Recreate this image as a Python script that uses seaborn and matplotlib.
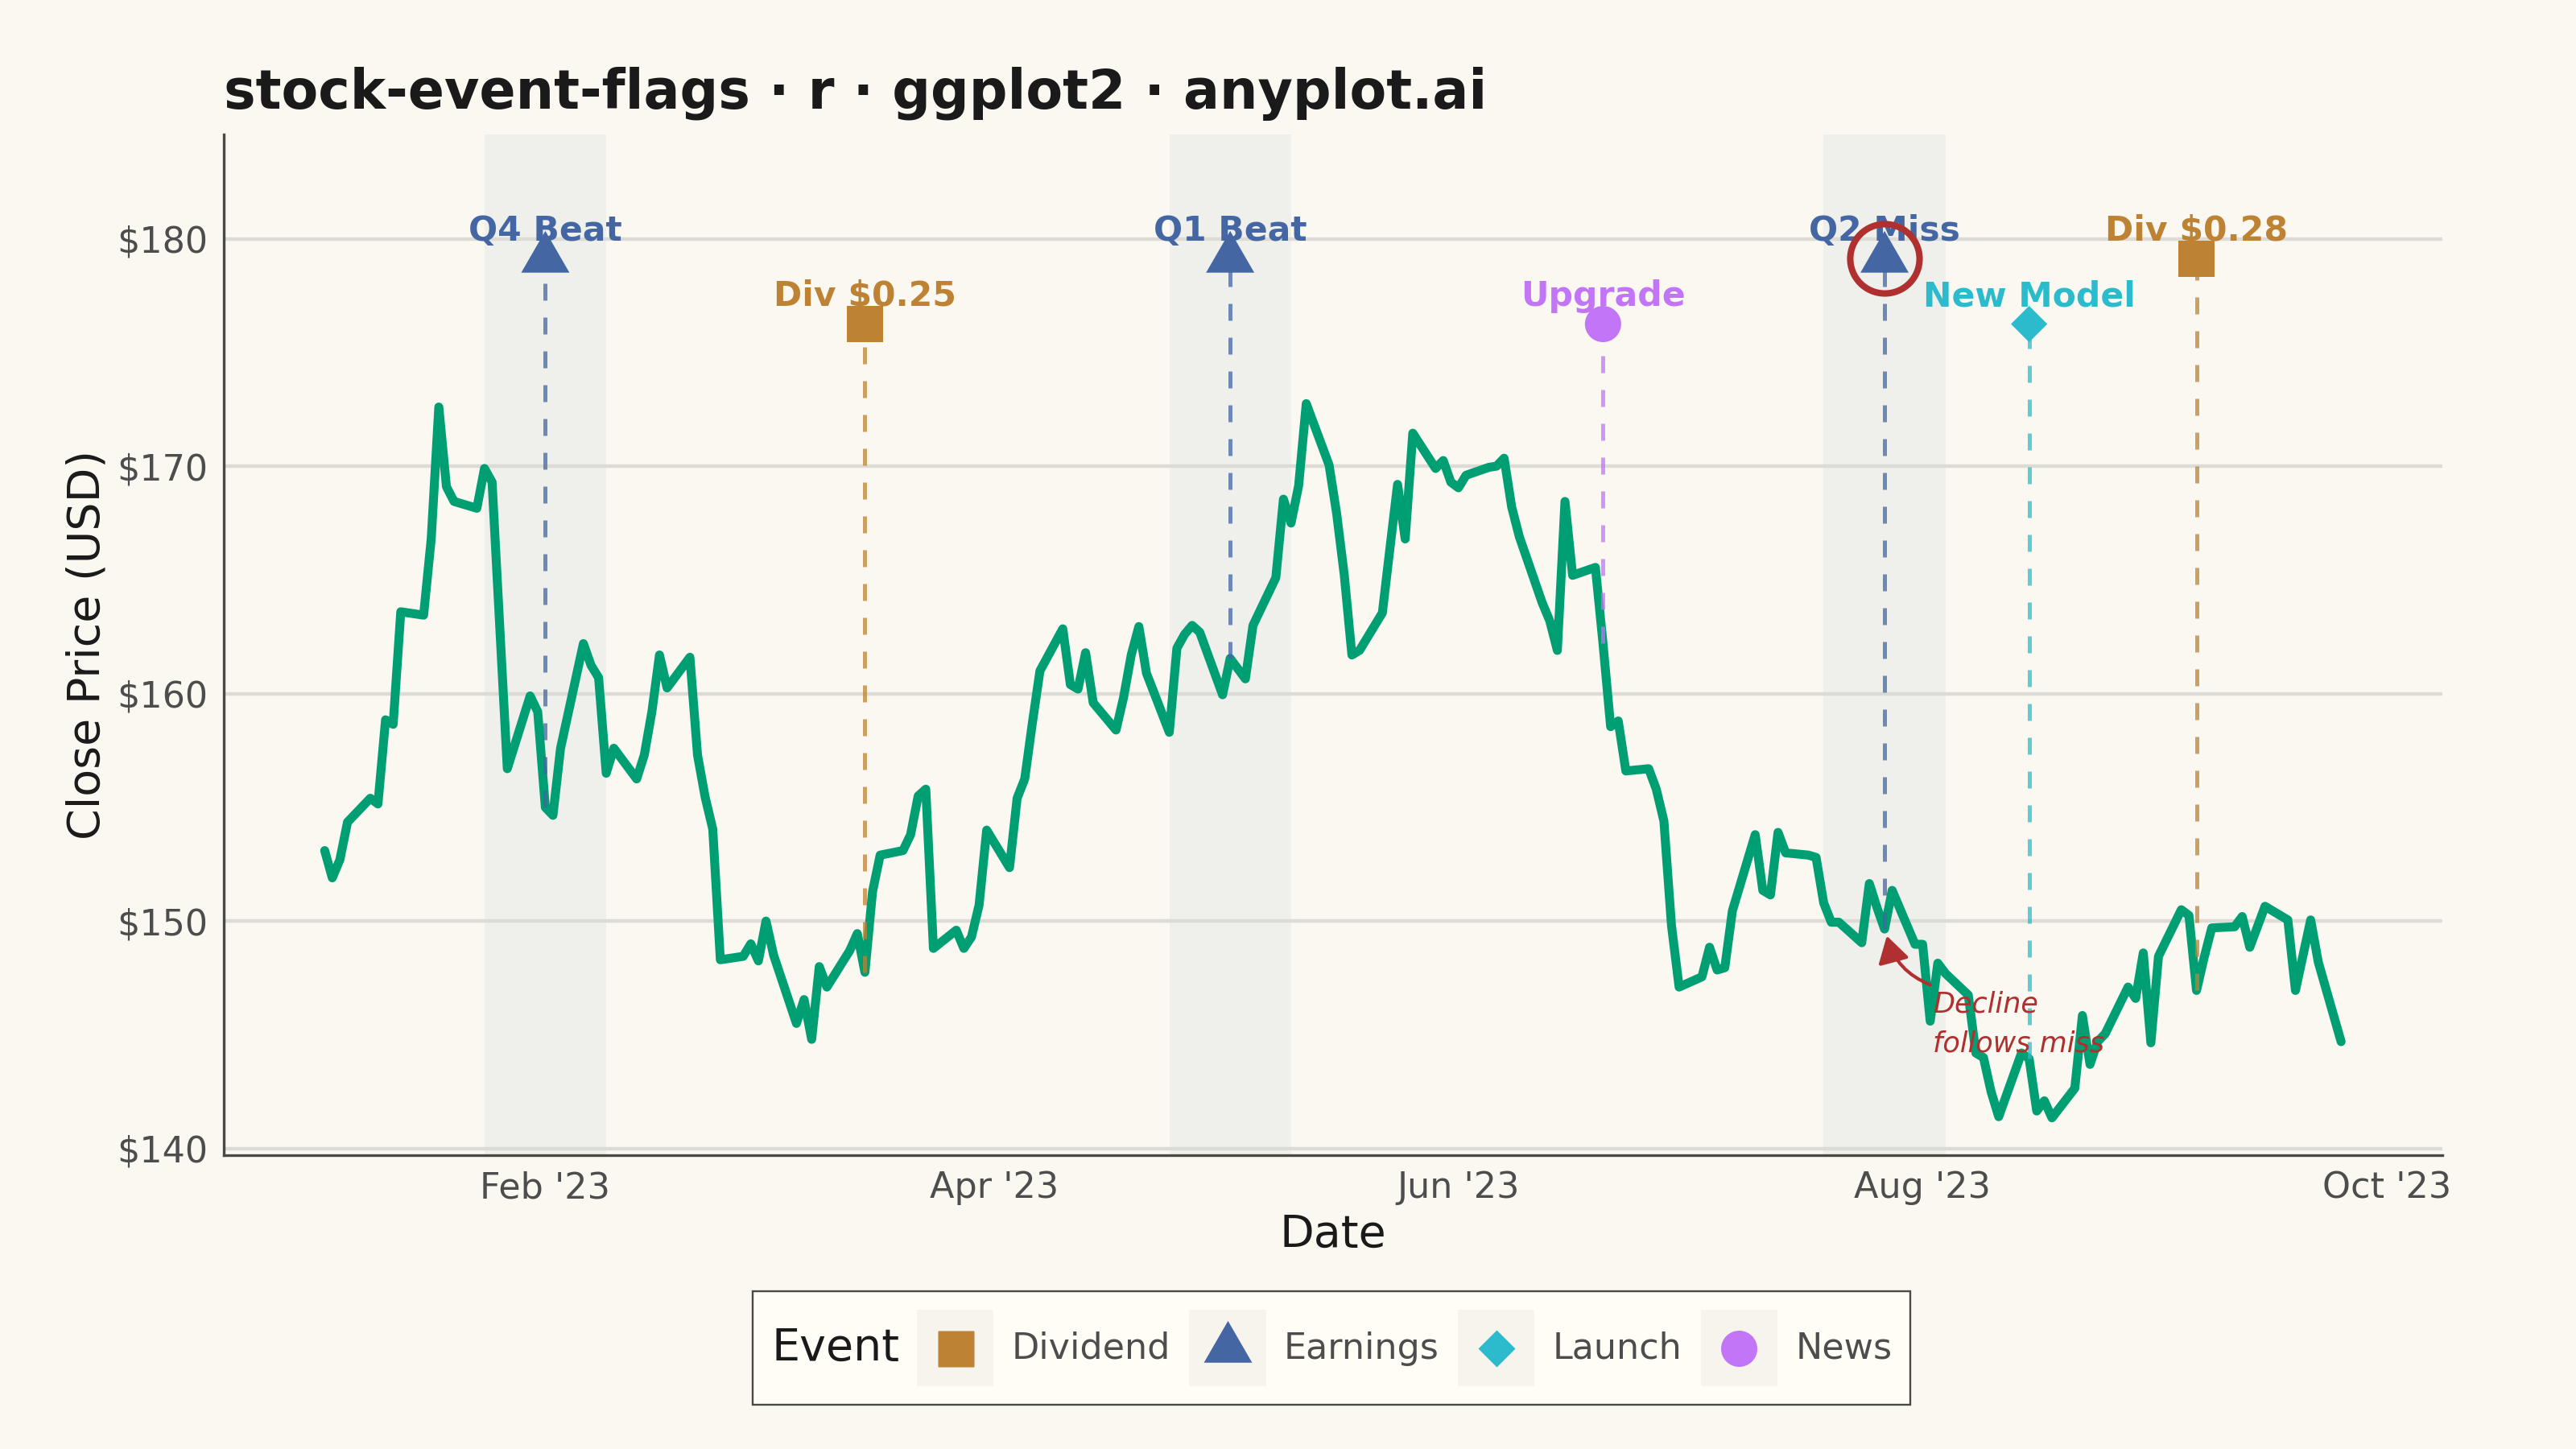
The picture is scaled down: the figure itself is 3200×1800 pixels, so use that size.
import matplotlib
matplotlib.use("Agg")
import matplotlib.pyplot as plt
import matplotlib.dates as mdates
from matplotlib.lines import Line2D
from matplotlib.patches import Rectangle
from matplotlib.markers import MarkerStyle
from matplotlib.offsetbox import HPacker
from matplotlib.ticker import FuncFormatter
import seaborn as sns
import pandas as pd
import numpy as np

# 일별 종가 (영업일, 2023-01-03 부터) - 그림에서 읽은 값
close = [
    153.1, 151.9, 152.7, 154.35,
    155.4, 155.15, 158.85, 158.65, 163.6,
    163.45, 166.8, 172.6, 169.1, 168.45,
    168.15, 169.9, 169.3, 163.0, 156.7,
    159.9, 159.2, 155.0, 154.65, 157.6,
    162.2, 161.25, 160.7, 156.5, 157.6,
    156.25, 157.3, 159.2, 161.7, 160.25,
    161.6, 157.3, 155.45, 154.05, 148.3,
    148.45, 149.0, 148.25, 150.0, 148.5,
    145.5, 146.55, 144.8, 148.0, 147.1,
    148.7, 149.45, 147.75, 151.3, 152.9,
    153.1, 153.8, 155.5, 155.8, 148.8,
    149.6, 148.8, 149.3, 150.7, 154.0,
    152.35, 155.4, 156.25, 158.7, 161.0,
    162.85, 160.4, 160.2, 161.8, 159.6,
    158.4, 159.85, 161.7, 162.95, 160.9,
    158.3, 162.0, 162.6, 163.0, 162.7,
    159.95, 161.55, 161.1, 160.65, 163.0,
    165.1, 168.55, 167.5, 169.15, 172.75,
    170.05, 167.9, 165.2, 161.7, 161.9,
    163.55, 166.4, 169.2, 166.8, 171.45,
    169.9, 170.25, 169.3, 169.05, 169.6,
    169.95, 170.0, 170.35, 168.2, 166.9,
    164.0, 163.2, 161.9, 168.45, 165.2,
    165.55, 162.2, 158.55, 158.8, 156.6,
    156.7, 155.8, 154.4, 149.8, 147.1,
    147.55, 148.85, 147.85, 147.95, 150.45,
    153.8, 151.35, 151.15, 153.9, 153.0,
    152.9, 152.8, 150.8, 149.95, 149.95,
    149.05, 151.65, 150.6, 149.65, 151.35,
    148.98, 148.98, 145.6, 148.15, 147.7,
    146.75, 144.2, 144.0, 142.5, 141.4,
    144.2, 143.95, 141.65, 142.1, 141.35,
    142.65, 145.85, 143.7, 144.7, 145.05,
    147.1, 146.6, 148.6, 144.65, 148.45,
    150.5, 150.25, 146.95, 148.4, 149.7,
    149.75, 150.2, 148.85, 149.75, 150.65,
    150.05, 146.95, 148.5, 150.05, 148.2,
    144.7,
]

# 이벤트
event_dates = ['2023-02-01', '2023-03-15', '2023-05-02', '2023-06-20',
               '2023-07-27', '2023-08-15', '2023-09-06']
event_types = ['Earnings', 'Dividend', 'Earnings', 'News',
               'Earnings', 'Launch', 'Dividend']
event_labels = ['Q4 Beat', 'Div $0.25', 'Q1 Beat', 'Upgrade',
                'Q2 Miss', 'New Model', 'Div $0.28']

legend_order = ['Dividend', 'Earnings', 'Launch', 'News']
palette = {'Dividend': '#BD8234', 'Earnings': '#4467A4',
           'Launch': '#2CBBCC', 'News': '#C275F7'}

BG = '#FAF8F1'
INK = '#4A4A44'
RED = '#B0302F'
KEY_BG = '#F6F4ED'
FLAG_HIGH, FLAG_LOW = 179.12, 176.25

prices = pd.DataFrame({'date': pd.bdate_range('2023-01-03', periods=len(close)),
                       'close': close})
ev = pd.DataFrame({'date': pd.to_datetime(event_dates), 'type': event_types,
                   'label': event_labels})
ev['flag_y'] = np.where(np.arange(len(ev)) % 2 == 0, FLAG_HIGH, FLAG_LOW)
ev['price'] = prices.set_index('date').loc[ev['date'], 'close'].values

tri = MarkerStyle(np.array([[-1, -0.577], [1, -0.577], [0, 1.155]]))
marker_map = {'Dividend': 's', 'Earnings': tri, 'Launch': 'D', 'News': 'o'}
ms_map = {'Dividend': 16.2, 'Earnings': 24.9, 'Launch': 11.5, 'News': 16.2}


class KeyHandler:
    # ggplot 스타일 범례 키: 배경 사각형 + 가운데 마커
    def legend_artist(self, legend, orig_handle, fontsize, handlebox):
        x0, y0 = -handlebox.xdescent, -handlebox.ydescent
        w, h = handlebox.width, handlebox.height
        tr = handlebox.get_transform()
        bg = Rectangle((x0, y0), w, h, facecolor=KEY_BG, edgecolor='none', transform=tr)
        mk = Line2D([x0 + w / 2], [y0 + h / 2], marker=orig_handle.get_marker(),
                    ms=orig_handle.get_markersize(), mfc=orig_handle.get_markerfacecolor(),
                    mec='none', ls='none', transform=tr)
        handlebox.add_artist(bg)
        handlebox.add_artist(mk)
        return mk


sns.set_theme(style='white')
plt.rcParams['font.family'] = ['DejaVu Sans']

fig = plt.figure(figsize=(16, 9), dpi=200, facecolor=BG)
ax = fig.add_axes([0.0869, 0.2028, 0.8612, 0.7045])
ax.set_facecolor(BG)

# 실적 발표 전후 음영
for d in ev.loc[ev['type'] == 'Earnings', 'date']:
    ax.axvspan(d - pd.Timedelta(days=8), d + pd.Timedelta(days=8),
               color='#EFEFEC', lw=0, zorder=0.2)

ax.grid(axis='y', color='#DDDBD5', lw=1.6, zorder=0.5)
ax.grid(axis='x', visible=False)
ax.set_axisbelow(True)

sns.lineplot(data=prices, x='date', y='close', color='#009E73', lw=4.0,
             solid_joinstyle='round', ax=ax, zorder=2)

# 깃발 막대
for _, r in ev.iterrows():
    ax.plot([r['date'], r['date']], [r['price'], r['flag_y']],
            color=palette[r['type']], lw=1.8, dashes=(4.2, 4.2),
            alpha=0.75, zorder=3)

sns.scatterplot(data=ev, x='date', y='flag_y', hue='type', style='type',
                size='type', palette=palette, markers=marker_map,
                sizes={k: v ** 2 for k, v in ms_map.items()},
                linewidth=0, legend=False, ax=ax, zorder=4)

for _, r in ev.iterrows():
    ax.text(r['date'], r['flag_y'] + 0.78, r['label'], color=palette[r['type']],
            fontsize=15.3, fontweight='bold', ha='center', va='baseline', zorder=5)

# Q2 Miss 강조
miss = ev[ev['label'] == 'Q2 Miss'].iloc[0]
ax.plot([miss['date']], [miss['flag_y']], marker='o', ms=31, mfc='none',
        mec=RED, mew=2.9, zorder=6)

day0 = pd.Timestamp('2023-01-01')
ax.annotate('', xy=(day0 + pd.Timedelta(days=207.3), 149.35),
            xytext=(day0 + pd.Timedelta(days=213.0), 147.2),
            arrowprops=dict(arrowstyle='-|>,head_length=0.5,head_width=0.3',
                            mutation_scale=20, color=RED, lw=1.5,
                            connectionstyle='arc3,rad=-0.25', shrinkA=0, shrinkB=0),
            zorder=6)
ax.text(day0 + pd.Timedelta(days=213.3), 146.95, 'Decline\nfollows miss',
        color=RED, fontsize=12.6, style='italic', ha='left', va='top',
        linespacing=1.55, zorder=6)

ax.set_xlim(day0 - pd.Timedelta(days=11.25), day0 + pd.Timedelta(days=280.3))
ax.set_ylim(139.71, 184.59)
ax.set_yticks([140, 150, 160, 170, 180])
ax.yaxis.set_major_formatter(FuncFormatter(lambda v, p: f'${v:.0f}'))
ax.set_xticks(pd.to_datetime(['2023-02-01', '2023-04-01', '2023-06-01',
                              '2023-08-01', '2023-10-01']))
ax.xaxis.set_major_formatter(mdates.DateFormatter("%b '%y"))
ax.tick_params(length=0, labelsize=16, labelcolor='#4D4D4D', pad=7)

for s in ['top', 'right']:
    ax.spines[s].set_visible(False)
for s in ['left', 'bottom']:
    ax.spines[s].set_color(INK)
    ax.spines[s].set_linewidth(1.2)

ax.set_xlabel('Date', fontsize=20, color='#1A1A1A', labelpad=3.5)
ax.set_ylabel('Close Price (USD)', fontsize=20, color='#1A1A1A', labelpad=3.5)
ax.set_title('stock-event-flags · r · ggplot2 · anyplot.ai', loc='left',
             fontsize=24, fontweight='bold', color='#1A1A1A', pad=11.6)

# 범례 (제목을 왼쪽에)
handles = [Line2D([], [], marker=marker_map[t], ls='none', ms=ms_map[t],
                  mfc=palette[t], mec='none') for t in legend_order]
leg = fig.legend(handles, legend_order, title='Event', loc='center',
                 bbox_to_anchor=(0.517, 0.0697), ncol=4, numpoints=1,
                 handler_map={Line2D: KeyHandler()},
                 fontsize=16, title_fontsize=20, handlelength=2.14,
                 handleheight=2.915, handletextpad=0.5, columnspacing=0.53,
                 borderpad=0.52, fancybox=False, framealpha=1,
                 edgecolor=INK, facecolor='#FFFDF6')
leg.get_frame().set_linewidth(0.85)
for t in leg.get_texts():
    t.set_color('#4D4D4D')
leg.get_title().set_color('#1A1A1A')
old = leg._legend_box
title_box, handle_box = old.get_children()
new_box = HPacker(pad=old.pad, sep=7.8, align='center',
                  children=[title_box, handle_box])
new_box.set_figure(fig)
new_box.set_offset(leg._findoffset)
leg._legend_box = new_box

fig.savefig('out.png', dpi=200, facecolor=BG)
